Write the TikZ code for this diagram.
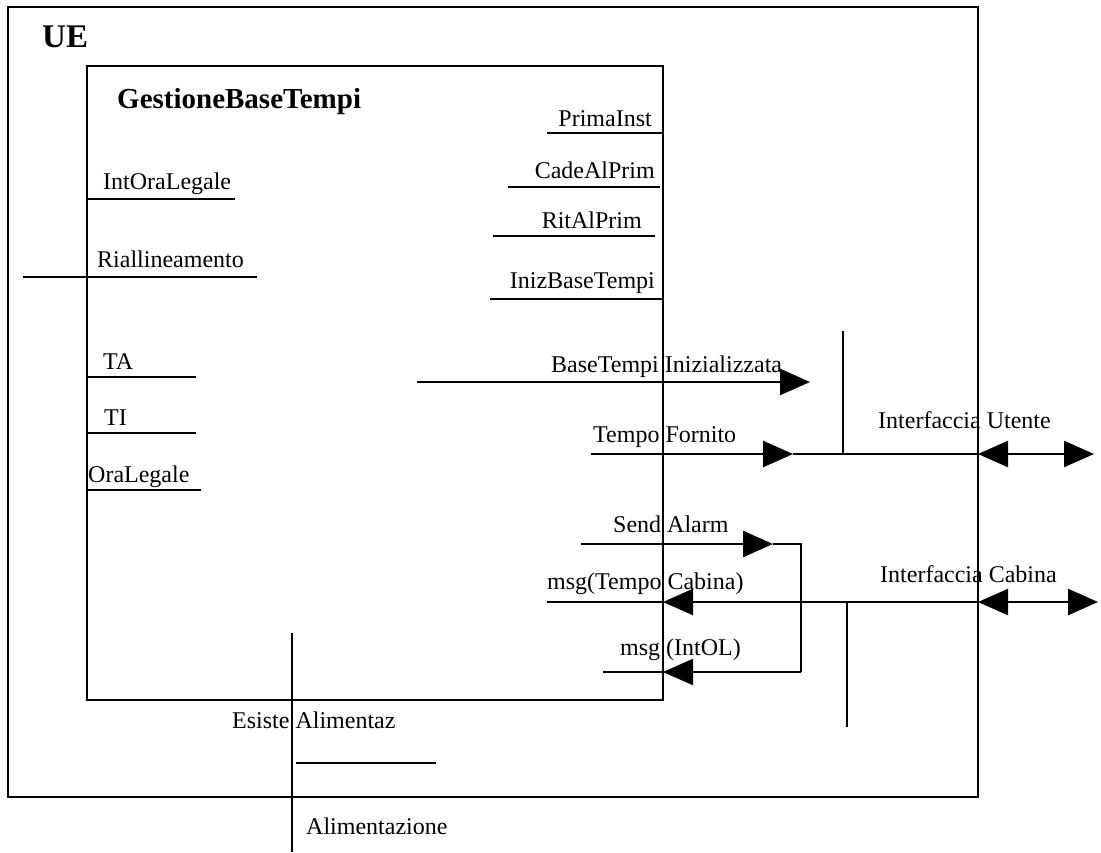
\documentclass[tikz,border=0pt]{standalone}
\usepackage{fontspec}
\setmainfont{Liberation Serif}
\usetikzlibrary{arrows.meta}
\begin{document}
\begin{tikzpicture}[x=1pt,y=-1pt,
  wire/.style={line width=2.4pt},
  box/.style={draw,line width=2.4pt,inner sep=0pt,outer sep=0pt,anchor=north west},
  lbl/.style={inner sep=0pt,font=\fontsize{24}{28}\selectfont},
  ttl/.style={inner sep=0pt,font=\fontsize{29}{34}\selectfont\bfseries},
  head/.style={-{Triangle[length=30pt,width=26pt]}},
  twoheads/.style={{Triangle[length=30pt,width=26pt]}-{Triangle[length=30pt,width=26pt]}},
]
\useasboundingbox (0,0) rectangle (1101,852);

% enclosing unit and the time-base block
\node[box,minimum width=970pt,minimum height=790pt] (ue) at (8,7) {};
\node[box,minimum width=576pt,minimum height=634pt] (gbt) at (87,66) {};
\node[ttl,font=\fontsize{33}{38}\selectfont\bfseries,anchor=base west] (ue-t) at (42,47) {UE};
\node[ttl,anchor=base west] (gbt-t) at (117,108) {GestioneBaseTempi};

% ports on the left side
\coordinate (iol) at (235,199);
\draw[wire] (gbt.west |- iol) -- (iol);
\node[lbl,anchor=base west] (iol-t) at (103,189) {IntOraLegale};

\coordinate (ria-a) at (23,277);
\coordinate (ria-b) at (257,277);
\draw[wire] (ria-a) -- (ria-b);
\node[lbl,anchor=base west] (ria-t) at (97,267) {Riallineamento};

\coordinate (ta) at (196,377);
\draw[wire] (gbt.west |- ta) -- (ta);
\node[lbl,anchor=base west] (ta-t) at (103,369) {TA};

\coordinate (ti) at (196,433);
\draw[wire] (gbt.west |- ti) -- (ti);
\node[lbl,anchor=base west] (ti-t) at (104,425) {TI};

\coordinate (ol) at (201,490);
\draw[wire] (gbt.west |- ol) -- (ol);
\node[lbl,anchor=base west] (ol-t) at (88,482) {OraLegale};

% ports on the right side
\coordinate (pi) at (547,133);
\draw[wire] (pi) -- (gbt.east |- pi);
\node[lbl,anchor=base east] (pi-t) at (652,126) {PrimaInst};

\coordinate (cap-a) at (508,187);
\coordinate (cap-b) at (660,187);
\draw[wire] (cap-a) -- (cap-b);
\node[lbl,anchor=base east] (cap-t) at (655,178) {CadeAlPrim};

\coordinate (rap-a) at (493,236);
\coordinate (rap-b) at (655,236);
\draw[wire] (rap-a) -- (rap-b);
\node[lbl,anchor=base east] (rap-t) at (642,228) {RitAlPrim};

\coordinate (ibt) at (490,299);
\draw[wire] (ibt) -- (gbt.east |- ibt);
\node[lbl,anchor=base east] (ibt-t) at (655,288) {InizBaseTempi};

% outgoing signals towards the user interface
\coordinate (bti-a) at (417,382);
\coordinate (bti-b) at (810,382);
\draw[wire,head] (bti-a) -- (bti-b);
\node[lbl,anchor=base west] (bti-t) at (551,372) {BaseTempi Inizializzata};

\coordinate (tf-a) at (591,454);
\coordinate (tf-h) at (793,454);
\coordinate (bus1) at (843,331);
\draw[wire,head] (tf-a) -- (tf-h);
\draw[wire] (tf-h) -- (ue.east |- tf-h);
\draw[wire] (bus1) -- (bus1 |- tf-h);
\node[lbl,anchor=base west] (tf-t) at (593,442) {Tempo Fornito};

\coordinate (iu-r) at (1094,454);
\draw[wire,twoheads] (ue.east |- tf-h) -- (iu-r);
\node[lbl,anchor=base west] (iu-t) at (878,428) {Interfaccia Utente};

% alarm loop and cabin messages
\coordinate (sa-a) at (581,544);
\coordinate (sa-h) at (773,544);
\coordinate (loop) at (801,544);
\coordinate (io) at (603,672);
\draw[wire,head] (sa-a) -- (sa-h);
\draw[wire] (sa-h) -- (loop) -- (loop |- io);
\draw[wire,head] (loop |- io) -- (gbt.east |- io);
\draw[wire] (gbt.east |- io) -- (io);
\node[lbl,anchor=base west] (sa-t) at (613,532) {Send Alarm};
\node[lbl,anchor=base west] (io-t) at (620,655) {msg (IntOL)};

\coordinate (tc) at (547,602);
\coordinate (bus2) at (847,727);
\draw[wire,head] (ue.east |- tc) -- (gbt.east |- tc);
\draw[wire] (gbt.east |- tc) -- (tc);
\draw[wire] (bus2 |- tc) -- (bus2);
\node[lbl,anchor=base west] (tc-t) at (547,589) {msg(Tempo Cabina)};

\coordinate (ic-r) at (1098,602);
\draw[wire,twoheads] (ue.east |- tc) -- (ic-r);
\node[lbl,anchor=base west] (ic-t) at (880,582) {Interfaccia Cabina};

% power supply
\coordinate (al-top) at (292,633);
\coordinate (al-bot) at (292,852);
\draw[wire] (al-top) -- (al-bot);
\coordinate (ea-a) at (296,763);
\coordinate (ea-b) at (436,763);
\draw[wire] (ea-a) -- (ea-b);
\node[lbl,anchor=base west] (ea-t) at (232,728) {Esiste Alimentaz};
\node[lbl,anchor=base west] (al-t) at (306,834) {Alimentazione};
\end{tikzpicture}
\end{document}
